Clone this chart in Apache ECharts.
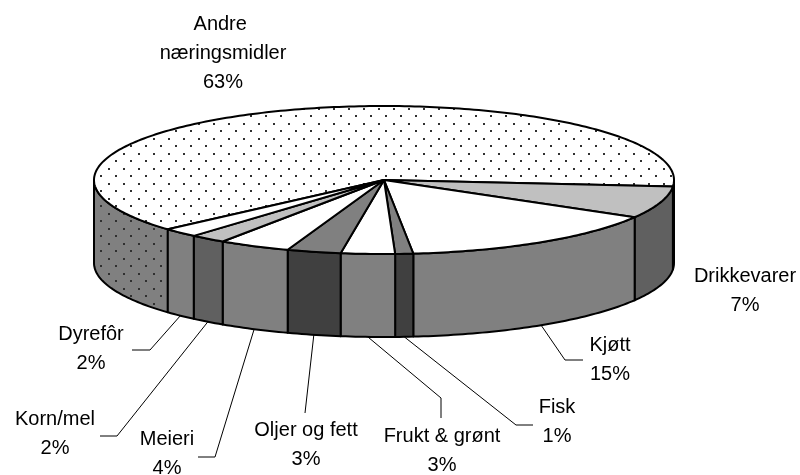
<!DOCTYPE html>
<html><head><meta charset="utf-8">
<script src="https://cdn.jsdelivr.net/npm/echarts@6/dist/echarts.min.js"></script>
<style>html,body{margin:0;padding:0;background:#fff}#c{width:800px;height:475px}</style>
</head><body><div id="c"></div>
<script>
// ---- data ----
const categories = ['Andre næringsmidler','Drikkevarer','Kjøtt','Fisk','Frukt & grønt','Oljer og fett','Meieri','Korn/mel','Dyrefôr'];
const values = [63,7,15,1,3,3,4,2,2];

// ---- styles ----
const topFills  = ['dots','#c0c0c0','#ffffff','#808080','#ffffff','#808080','#ffffff','#c0c0c0','#ffffff'];
const sideFills = ['dotsGray','#606060','#808080','#404040','#808080','#404040','#808080','#606060','#808080'];
const labelLayout = {
  'Andre næringsmidler': {pos:[223,53], width:140},
  'Drikkevarer': {pos:[745,291]},
  'Kjøtt': {pos:[610,360], leader:[[565,360],[583,360]]},
  'Fisk': {pos:[557,422], leader:[[516,425],[533,425]]},
  'Frukt & grønt': {pos:[442,451], leader:[[441,398],[441,418]]},
  'Oljer og fett': {pos:[306,445], leader:[[305,413]]},
  'Meieri': {pos:[167,454], leader:[[215,457],[198,457]]},
  'Korn/mel': {pos:[55,434], leader:[[117,436],[100,436]]},
  'Dyrefôr': {pos:[91,349], leader:[[150,350],[132,350]]}
};
const GEO = {cx:384, cy:180, rx:290, ry:74, depth:83, start:138.2};
const FONT = '20px "Liberation Sans", Arial, sans-serif';

function makeDots(bg){
  const c=document.createElement('canvas'); c.width=15; c.height=15;
  const g=c.getContext('2d'); g.fillStyle=bg; g.fillRect(0,0,15,15);
  g.fillStyle='#303030'; g.fillRect(3,3,2,2); g.fillRect(10,10,2,2);
  return c;
}
const patterns = {
  dots: {image: makeDots('#ffffff'), repeat:'repeat'},
  dotsGray: {image: makeDots('#808080'), repeat:'repeat'}
};
function fillOf(f){ return patterns[f] || f; }

const total = values.reduce((a,b)=>a+b,0);
const angles = []; { let a=GEO.start; values.forEach(v=>{ const s=v/total*360; angles.push([a,a+s]); a+=s; }); }

function pt(a,dy){ const r=a*Math.PI/180; return [GEO.cx+GEO.rx*Math.cos(r), GEO.cy+GEO.ry*Math.sin(r)+(dy||0)]; }
function arcPts(a0,a1,dy){ const n=Math.max(2,Math.ceil(Math.abs(a1-a0))); const p=[]; for(let k=0;k<=n;k++) p.push(pt(a0+(a1-a0)*k/n,dy)); return p; }

const strokeStyle = {stroke:'#000', lineWidth:2, lineJoin:'round'};

function renderWall(params){
  const i=params.dataIndex; const [a0,a1]=angles[i];
  const children=[];
  [-360,0,360].forEach(off=>{
    const s=Math.max(a0,off), e=Math.min(a1,off+180);
    if(e>s){
      const pts=arcPts(s,e,0).concat(arcPts(e,s,GEO.depth));
      children.push({type:'polygon', shape:{points:pts}, style:Object.assign({fill:fillOf(sideFills[i])},strokeStyle)});
    }
  });
  return {type:'group', children};
}
function renderTop(params){
  const i=params.dataIndex; const [a0,a1]=angles[i];
  const pts=[[GEO.cx,GEO.cy]].concat(arcPts(a0,a1,0));
  return {type:'polygon', shape:{points:pts}, style:Object.assign({fill:fillOf(topFills[i])},strokeStyle)};
}
function renderLabel(params){
  const i=params.dataIndex; const name=categories[i]; const L=labelLayout[name];
  const pct=Math.round(values[i]/total*100)+'%';
  const children=[];
  const text={type:'text', x:L.pos[0], y:L.pos[1], style:{text:name+'\n'+pct, font:FONT, fill:'#000',
    align:'center', verticalAlign:'middle', textAlign:'center', textVerticalAlign:'middle', lineHeight:29}};
  if(L.width){ text.style.width=L.width; text.style.overflow='break'; }
  children.push(text);
  if(L.leader){
    const mid=(angles[i][0]+angles[i][1])/2;
    const p0=pt(mid,GEO.depth);
    children.push({type:'polyline', shape:{points:[p0].concat(L.leader)}, style:{stroke:'#000', lineWidth:1, fill:null}});
  }
  return {type:'group', children};
}

const data = values.map((v,i)=>[i,v]);
const chart = echarts.init(document.getElementById('c'), null, {renderer:'canvas'});
chart.setOption({
  animation:false,
  backgroundColor:'#ffffff',
  series:[
    {type:'custom', coordinateSystem:'none', silent:true, z:1, data, renderItem:renderWall},
    {type:'custom', coordinateSystem:'none', silent:true, z:2, data, renderItem:renderTop},
    {type:'custom', coordinateSystem:'none', silent:true, z:3, data, renderItem:renderLabel}
  ]
});
</script></body></html>
